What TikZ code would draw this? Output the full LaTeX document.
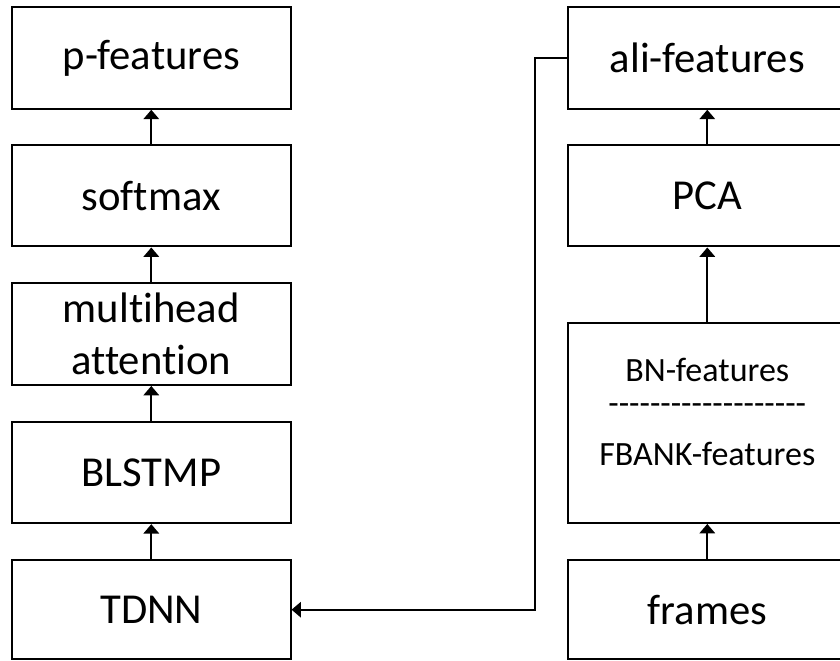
\documentclass[tikz,border=0pt]{standalone}
\usepackage{fontspec}
\setmainfont{Carlito}[Ligatures={TeXOff,NoCommon}]
\usetikzlibrary{arrows.meta}

\begin{document}
\begin{tikzpicture}[x=0.75pt,y=-0.75pt,
  blk/.style={draw=black, line width=1.5pt, fill=white, inner sep=0pt,
    minimum width=208.9pt, minimum height=#1, align=center,
    font=\fontsize{32}{39.5}\selectfont},
  blk/.default=76pt,
  small/.style={inner sep=0pt, anchor=base, font=\fontsize{25.5}{30}\selectfont},
  flow/.style={draw=black, line width=1.5pt,
    -{Triangle[width=11.5pt,length=7pt]}}
]
\useasboundingbox[fill=white] (0,0) rectangle (840,661);

% left column
\node[blk] (pf)  at (151.3, 58.1)  {p-features};
\node[blk] (sm)  at (151.3, 195.8) {softmax};
\node[blk=76.7pt] (mha) at (151.3, 333.8) {multihead\\attention};
\node[blk] (bl)  at (151.3, 472.5) {BLSTMP};
\node[blk=74.6pt] (td) at (151.3, 609.7) {TDNN};

% right column
\node[blk] (ali) at (707.3, 58.1)  {ali-features};
\node[blk] (pca) at (707.3, 195.8) {PCA};
\node[blk=150.2pt] (bn) at (707.3, 422.8) {};
\node[small] (bnA) at (707.3, 381.7) {BN-features};
\node[small] (bnB) at (707.3, 414.0) {-------------------};
\node[small] (bnC) at (707.3, 465.0) {FBANK-features};
\node[blk=74.6pt] (fr) at (707.3, 609.7) {frames};

% upward flow
\draw[flow] (td.north)  -- (bl.south);
\draw[flow] (bl.north)  -- (mha.south);
\draw[flow] (mha.north) -- (sm.south);
\draw[flow] (sm.north)  -- (pf.south);
\draw[flow] (fr.north)  -- (bn.south);
\draw[flow] (bn.north)  -- (pca.south);
\draw[flow] (pca.north) -- (ali.south);

% cross connection from ali-features back to TDNN
\coordinate (turn) at (535, 0);
\draw[flow] (ali.west) -| (turn |- td.east) -- (td.east);
\end{tikzpicture}
\end{document}
